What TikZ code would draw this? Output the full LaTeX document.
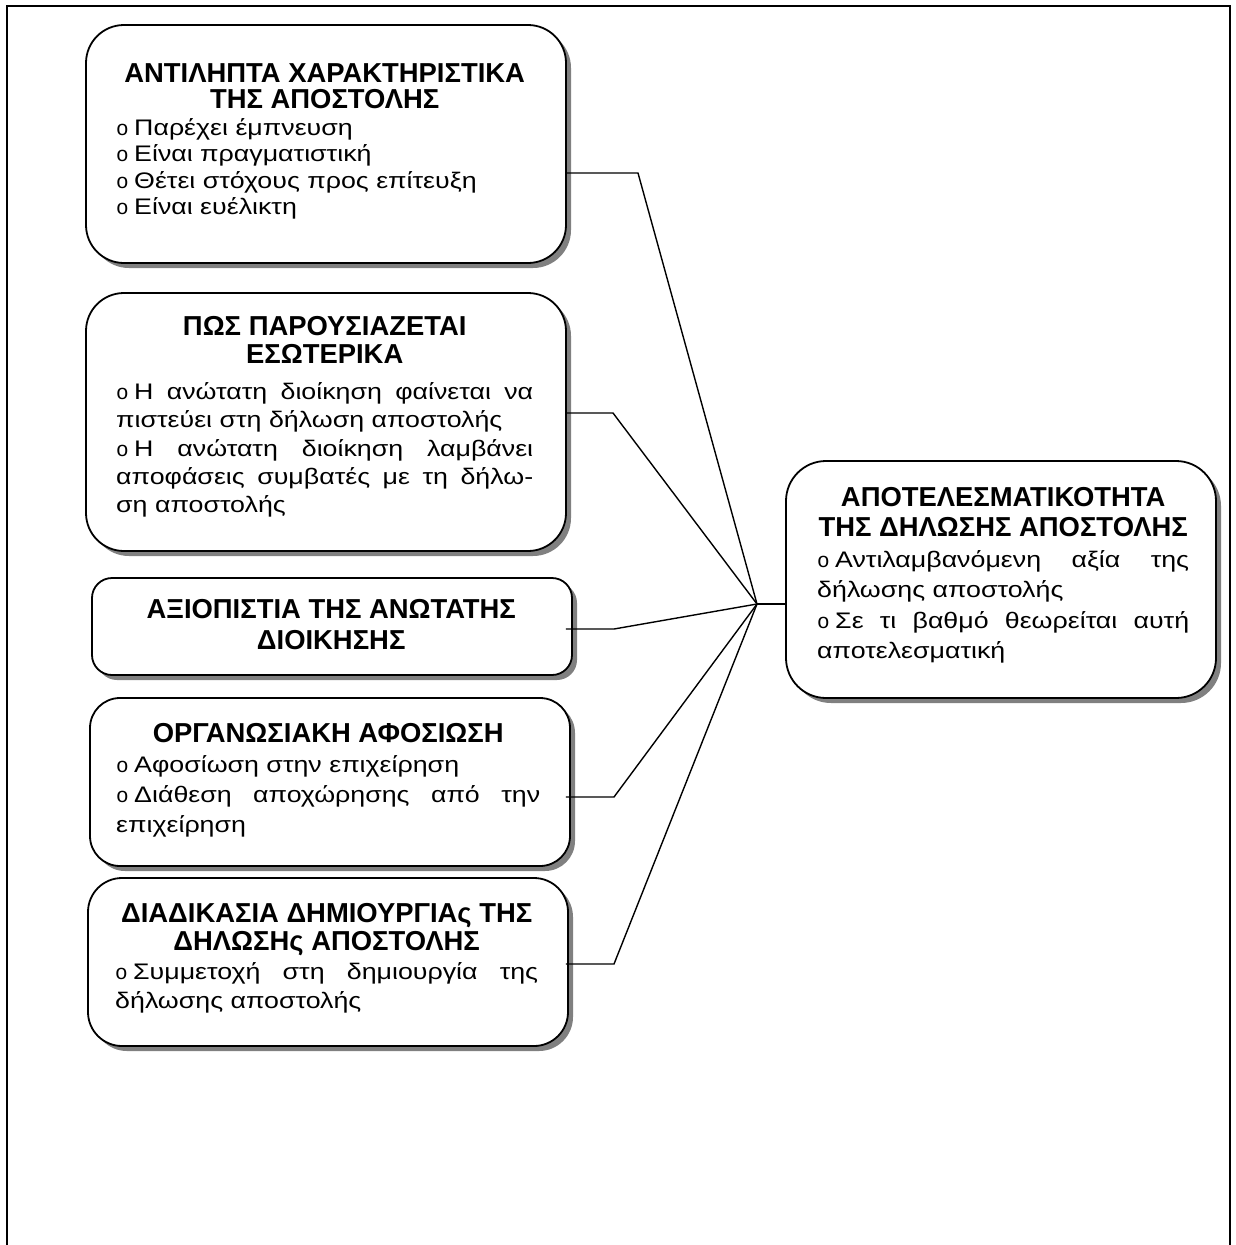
\documentclass[tikz,border=0pt]{standalone}
\usepackage{fontspec}
\setmainfont{Liberation Sans}
\newfontfamily\bulfam{Liberation Mono}
\newfontfamily\bodyfam[FakeStretch=1.19]{Liberation Sans}
\usetikzlibrary{shadows}
\newcommand\titlefont{\fontsize{27.4}{30}\selectfont\bfseries}
\newcommand\bodyfont{\bodyfam\fontsize{22.5}{28}\selectfont}
\newcommand\bul{\makebox[18pt][l]{\bulfam\fontsize{21}{28}\selectfont o}}
\newcommand\Tline[1]{\hbox to \hsize{\hfil\titlefont #1\hfil}}
\newcommand\Jline[1]{\hbox to \hsize{\bodyfont #1}}
\newcommand\Lline[1]{\hbox to \hsize{\bodyfont #1\hfil}}
\newcommand\Bsk[1]{\baselineskip=#1pt\lineskiplimit=-100pt\lineskip=0pt\parskip=0pt}
\begin{document}
\begin{tikzpicture}[x=1pt,y=-1pt,
  box/.style={draw, line width=1.8pt, fill=white, inner sep=0pt, rounded corners=#1,
    drop shadow={shadow xshift=5pt, shadow yshift=-5pt, fill=black!50, opacity=1}},
  box/.default=38pt,
  conn/.style={line width=1.4pt},
  frameline/.style={line width=2.4pt},
  txt/.style={anchor=base west, inner sep=0pt}]
\useasboundingbox (0,0) rectangle (1236,1245);
\fill[white] (0,0) rectangle (1236,1245);
% outer frame (open at the bottom)
\draw[frameline] (7,1245) -- (7,6) -- (1230,6) -- (1230,1245);

% boxes
\node[box=38pt, minimum width=480pt, minimum height=238pt] (b1) at (326,144) {};
\node[box=38pt, minimum width=480pt, minimum height=258pt] (b2) at (326,422) {};
\node[box=20pt, minimum width=480pt, minimum height=97pt] (b3) at (332,626.5) {};
\node[box=30pt, minimum width=480pt, minimum height=168pt] (b4) at (330,782) {};
\node[box=34pt, minimum width=480pt, minimum height=168pt] (b5) at (328,962) {};
\node[box=40pt, minimum width=430pt, minimum height=237pt] (rb) at (1001,579.5) {};

% texts
\node[txt] (t1) at (116,82) {\parbox[t]{417pt}{\Bsk{26.5}%
\Tline{ΑΝΤΙΛΗΠΤΑ ΧΑΡΑΚΤΗΡΙΣΤΙΚΑ}
\Tline{ΤΗΣ ΑΠΟΣΤΟΛΗΣ}
\Lline{\bul Παρέχει έμπνευση}
\Lline{\bul Είναι πραγματιστική}
\Lline{\bul Θέτει στόχους προς επίτευξη}
\Lline{\bul Είναι ευέλικτη}}};

\node[txt] (t2) at (116,335) {\parbox[t]{417pt}{\Bsk{28.3}%
\Tline{ΠΩΣ ΠΑΡΟΥΣΙΑΖΕΤΑΙ}
\Tline{ΕΣΩΤΕΡΙΚΑ}
\vskip 8pt
\Jline{\bul Η ανώτατη διοίκηση φαίνεται να}
\Lline{πιστεύει στη δήλωση αποστολής}
\Jline{\bul Η ανώτατη διοίκηση λαμβάνει}
\Jline{αποφάσεις συμβατές με τη δήλω-}
\Lline{ση αποστολής}}};

\node[txt] (t3) at (122,618) {\parbox[t]{418pt}{\Bsk{31.5}%
\Tline{ΑΞΙΟΠΙΣΤΙΑ ΤΗΣ ΑΝΩΤΑΤΗΣ}
\Tline{ΔΙΟΙΚΗΣΗΣ}}};

\node[txt] (t4) at (116,742) {\parbox[t]{424pt}{\Bsk{30}%
\Tline{ΟΡΓΑΝΩΣΙΑΚΗ ΑΦΟΣΙΩΣΗ}
\Lline{\bul Αφοσίωση στην επιχείρηση}
\Jline{\bul Διάθεση αποχώρησης από την}
\Lline{επιχείρηση}}};

\node[txt] (t5) at (115,922) {\parbox[t]{423pt}{\Bsk{28.7}%
\Tline{ΔΙΑΔΙΚΑΣΙΑ ΔΗΜΙΟΥΡΓΙΑς ΤΗΣ}
\Tline{ΔΗΛΩΣΗς ΑΠΟΣΤΟΛΗΣ}
\Jline{\bul Συμμετοχή στη δημιουργία της}
\Lline{δήλωσης αποστολής}}};

\node[txt] (t6) at (817,506) {\parbox[t]{372pt}{\Bsk{30.5}%
\Tline{ΑΠΟΤΕΛΕΣΜΑΤΙΚΟΤΗΤΑ}
\Tline{ΤΗΣ ΔΗΛΩΣΗΣ ΑΠΟΣΤΟΛΗΣ}
\Jline{\bul Αντιλαμβανόμενη αξία της}
\Lline{δήλωσης αποστολής}
\Jline{\bul Σε τι βαθμό θεωρείται αυτή}
\Lline{αποτελεσματική}}};

% connectors
\coordinate (hub) at (757,604);
\coordinate (k1) at (638,173);
\coordinate (k2) at (613,413);
\coordinate (k3) at (614,629);
\coordinate (k4) at (614,797);
\coordinate (k5) at (614,964);
\draw[conn] (b1.east |- k1) -- (k1) -- (hub);
\draw[conn] (b2.east |- k2) -- (k2) -- (hub);
\draw[conn] ([xshift=-7pt]b3.east |- k3) -- (k3) -- (hub);
\draw[conn] ([xshift=-5pt]b4.east |- k4) -- (k4) -- (hub);
\draw[conn] ([xshift=-3pt]b5.east |- k5) -- (k5) -- (hub);
\draw[conn] (hub) -- (hub -| rb.west);
\end{tikzpicture}
\end{document}
